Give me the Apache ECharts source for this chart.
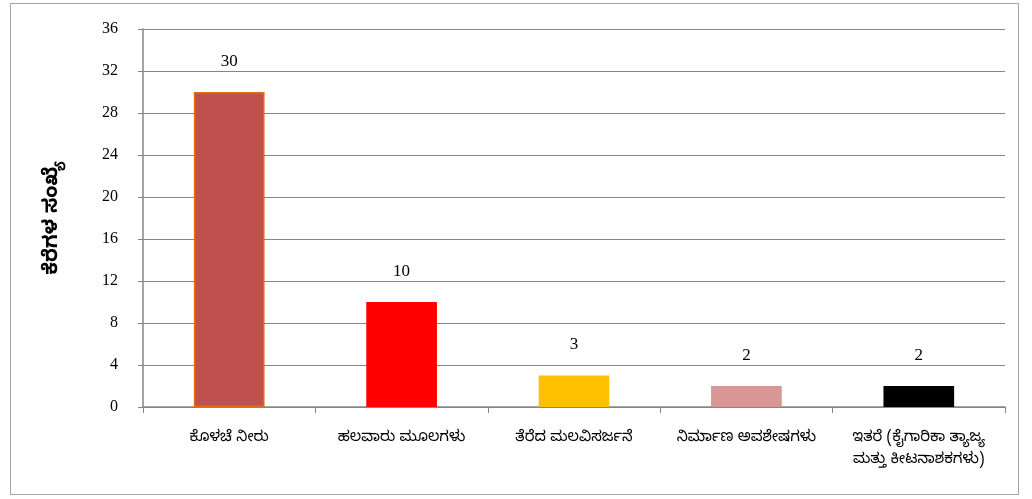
<!DOCTYPE html>
<html><head><meta charset="utf-8">
<script src="https://cdn.jsdelivr.net/npm/echarts@6/dist/echarts.min.js"></script>
<style>html,body{margin:0;padding:0;background:#fff}#frame{position:absolute;left:10px;top:3px;width:1007px;height:490px;border:1px solid #a6a6a6}#c{position:absolute;left:0;top:0;width:1032px;height:499px}</style>
</head><body><div id="frame"></div><div id="c"></div>
<script>
const categories = ['ಕೊಳಚೆ ನೀರು', 'ಹಲವಾರು ಮೂಲಗಳು', 'ತೆರೆದ ಮಲವಿಸರ್ಜನೆ', 'ನಿರ್ಮಾಣ ಅವಶೇಷಗಳು', 'ಇತರೆ (ಕೈಗಾರಿಕಾ ತ್ಯಾಜ್ಯ\nಮತ್ತು ಕೀಟನಾಶಕಗಳು)'];
const values = [30, 10, 3, 2, 2];
const barColors = ['#C0504D', '#FF0000', '#FFC000', '#D99694', '#000000'];
const yTicks = [0, 4, 8, 12, 16, 20, 24, 28, 32, 36];
const yTitle = 'ಕೆರೆಗಳ ಸಂಖ್ಯೆ';

const chart = echarts.init(document.getElementById('c'));
chart.setOption({
  animation: false,
  grid: {left: 143, right: 27, top: 29, bottom: 92, containLabel: false},
  xAxis: {
    type: 'category', data: categories,
    axisLine: {lineStyle: {color: '#868686', width: 1.5}},
    axisTick: {show: true, length: 6, lineStyle: {color: '#868686'}},
    axisLabel: {color: '#000', fontSize: 15, margin: 21, lineHeight: 22,
      fontFamily: '"Noto Sans Kannada","Noto Sans",sans-serif', interval: 0}
  },
  yAxis: {
    type: 'value', min: 0, max: 36, interval: 4,
    name: yTitle, nameLocation: 'middle', nameGap: 78, nameRotate: 90,
    nameTextStyle: {color: '#000', fontSize: 20, fontWeight: 'bold', fontFamily: '"Noto Sans Kannada","Noto Sans",sans-serif'},
    axisLine: {show: true, lineStyle: {color: '#868686', width: 1.5}},
    axisTick: {show: true, length: 5, lineStyle: {color: '#868686'}},
    splitLine: {lineStyle: {color: '#868686', width: 1}},
    axisLabel: {color: '#000', fontSize: 16, margin: 25, fontFamily: '"Liberation Serif","Times New Roman",serif',
      formatter: v => yTicks.includes(v) ? String(v) : ''}
  },
  series: [{
    type: 'bar', barWidth: '41%',
    data: values.map((v, i) => ({value: v, itemStyle: {color: barColors[i], borderColor: i === 0 ? '#E46C0A' : barColors[i], borderWidth: i === 0 ? 1.5 : 0}})),
    label: {show: true, position: 'top', distance: 22, color: '#000', fontSize: 17, fontFamily: '"Liberation Serif","Times New Roman",serif'}
  }]
});
</script></body></html>
